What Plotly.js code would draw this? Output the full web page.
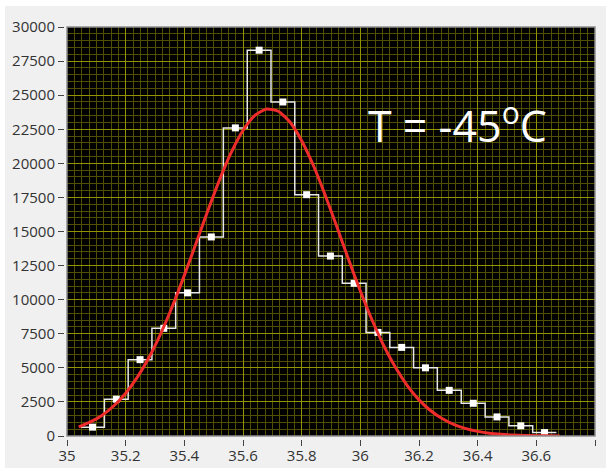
<!DOCTYPE html>
<html>
<head>
<meta charset="utf-8">
<script src="https://cdn.plot.ly/plotly-3.0.1.min.js"></script>
<style>
  html, body { margin: 0; padding: 0; background: #ffffff; width: 606px; height: 468px; overflow: hidden; }
  #chart { position: absolute; left: 5px; top: 6px; width: 601px; height: 462px; }
</style>
</head>
<body>
<div id="chart"></div>
<script>
// Histogram bins: centre of each bin and its count
const binCenters = [35.087, 35.168, 35.249, 35.330, 35.411, 35.492, 35.574, 35.655, 35.736, 35.817,
                    35.898, 35.979, 36.060, 36.141, 36.222, 36.303, 36.385, 36.466, 36.547, 36.628];
const binCounts  = [650, 2700, 5600, 7900, 10500, 14600, 22600, 28300, 24500, 17700,
                    13200, 11200, 7600, 6500, 5000, 3350, 2400, 1400, 750, 250];

// Fitted curve
const fitX = [35.04, 35.08, 35.12, 35.16, 35.20, 35.24, 35.28, 35.32, 35.36, 35.40, 35.44,
              35.48, 35.52, 35.56, 35.60, 35.64, 35.68, 35.72, 35.76, 35.80, 35.84, 35.88,
              35.92, 35.96, 36.00, 36.04, 36.08, 36.12, 36.16, 36.20, 36.24, 36.28, 36.32,
              36.36, 36.40, 36.44, 36.48, 36.52, 36.56, 36.60, 36.64, 36.68];
const fitY = [670, 1030, 1530, 2220, 3140, 4320, 5780, 7530, 9550, 11780, 14140,
              16520, 18790, 20800, 22410, 23500, 23980, 23820, 23030, 21660, 19840, 17680,
              15340, 12950, 10640, 8510, 6620, 5020, 3700, 2650, 1850, 1260, 830,
              540, 340, 200, 120, 70, 40, 22, 12, 6];

const xTickVals = [35, 35.2, 35.4, 35.6, 35.8, 36, 36.2, 36.4, 36.6, 36.8];
const yTickVals = [0, 2500, 5000, 7500, 10000, 12500, 15000, 17500, 20000, 22500, 25000, 27500, 30000];
const label = 'T = -45<sup>o</sup>C';

// Step outline spans from the left edge of the first bin to the right edge of the last
const n = binCenters.length;
const binWidth = (binCenters[n - 1] - binCenters[0]) / (n - 1);
const stepX = [binCenters[0] - binWidth / 2, ...binCenters, binCenters[n - 1] + binWidth / 2];
const stepY = [binCounts[0], ...binCounts, binCounts[n - 1]];

const W = 601, H = 462;
const margin = { l: 59, r: 11, t: 21, b: 29 };
const gapX = 3 / (W - margin.l - margin.r);
const gapY = 3 / (H - margin.t - margin.b);

const tickFont = { family: 'Open Sans, sans-serif', size: 15, color: '#333333' };

const traces = [
  {
    x: stepX, y: stepY, mode: 'lines', type: 'scatter',
    line: { shape: 'hvh', color: '#e8e8e8', width: 1.5 },
    hoverinfo: 'skip'
  },
  {
    x: binCenters, y: binCounts, mode: 'markers', type: 'scatter',
    marker: { symbol: 'square', size: 7, color: '#ffffff' }
  },
  {
    x: fitX, y: fitY, mode: 'lines', type: 'scatter',
    line: { color: '#ee2c2c', width: 3, shape: 'spline', smoothing: 0.6 }
  }
];

const layout = {
  width: W, height: H,
  margin: margin,
  paper_bgcolor: '#f0f0f0',
  plot_bgcolor: '#000000',
  showlegend: false,
  xaxis: {
    range: [35, 36.8], domain: [gapX, 1],
    anchor: 'free', position: 0,
    tickvals: xTickVals, ticktext: xTickVals.map(String),
    ticks: 'outside', ticklen: 6, tickwidth: 1, tickcolor: '#444444',
    ticklabelstandoff: -3,
    showline: false, zeroline: false,
    showgrid: true, gridcolor: '#939300', gridwidth: 1,
    minor: { dtick: 0.025, tick0: 35, showgrid: true, gridcolor: '#505000', gridwidth: 1 },
    tickfont: tickFont
  },
  yaxis: {
    range: [0, 30000], domain: [gapY, 1],
    anchor: 'free', position: 0,
    tickvals: yTickVals, ticktext: yTickVals.map(String),
    ticks: 'outside', ticklen: 6, tickwidth: 1, tickcolor: '#444444',
    showline: false, zeroline: false,
    showgrid: true, gridcolor: '#939300', gridwidth: 1,
    minor: { dtick: 500, tick0: 0, showgrid: true, gridcolor: '#505000', gridwidth: 1 },
    tickfont: tickFont
  },
  shapes: [
    {
      type: 'rect', xref: 'x domain', yref: 'y domain',
      x0: 0, x1: 1, y0: 0, y1: 1,
      line: { color: '#8f8f8f', width: 1.5 }, fillcolor: 'rgba(0,0,0,0)'
    }
  ],
  annotations: [
    {
      x: 36.332, y: 22900, xref: 'x', yref: 'y',
      text: label, showarrow: false,
      xanchor: 'center', yanchor: 'middle',
      font: { family: 'Open Sans, sans-serif', size: 43, color: '#ffffff' }
    }
  ]
};

Plotly.newPlot('chart', traces, layout, { displayModeBar: false, staticPlot: true });
</script>
</body>
</html>
